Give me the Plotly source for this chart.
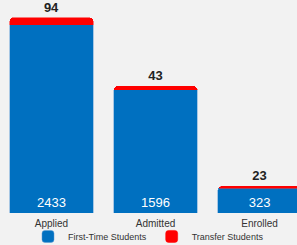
import plotly.graph_objects as go

categories = ["Applied", "Admitted", "Enrolled"]
first_time = [2433, 1596, 323]
transfer = [94, 43, 23]

blue = "#0070C0"
red = "#FF0000"
bg = "#F2F2F2"

fig = go.Figure()
fig.add_trace(go.Bar(
    x=categories, y=first_time, name="First-Time Students",
    marker=dict(color=blue, line=dict(color="#5B9BD5", width=0.5)),
    text=[str(v) for v in first_time], textposition="inside",
    insidetextanchor="start",
    textfont=dict(color="white", size=13, family="Arial, Liberation Sans"),
    width=0.8,
))
fig.add_trace(go.Bar(
    x=categories, y=transfer, name="Transfer Students",
    marker=dict(color=red, line=dict(color=red, width=0.5)),
    text=[str(v) for v in transfer], textposition="outside",
    textfont=dict(color="#222222", size=13, family="Arial, Liberation Sans", weight="bold"),
    width=0.8, cliponaxis=False,
))

fig.update_layout(
    width=297, height=245,
    barmode="stack", barcornerradius=4,
    paper_bgcolor=bg, plot_bgcolor=bg,
    margin=dict(l=0, r=0, t=0, b=32, autoexpand=False),
    showlegend=True,
    legend=dict(orientation="h", x=0.5, xanchor="center", xref="container",
                y=0.035, yanchor="middle", yref="container",
                font=dict(size=9, color="#333333", family="Arial, Liberation Sans"),
                itemwidth=30, traceorder="normal", bgcolor="rgba(0,0,0,0)",
                tracegroupgap=0),
    xaxis=dict(range=[-0.495, 2.36], showgrid=False, zeroline=False, showline=False,
               tickfont=dict(size=10, color="#333333", family="Arial, Liberation Sans"),
               ticks="", ticklabelstandoff=3, automargin=False, fixedrange=True),
    yaxis=dict(range=[0, 2755], visible=False, automargin=False, fixedrange=True),
)

fig.write_html(
    "out.html",
    config={"displayModeBar": False},
    post_script="document.body.style.margin='0';document.body.style.background='#F2F2F2';document.body.style.overflow='hidden';",
)
